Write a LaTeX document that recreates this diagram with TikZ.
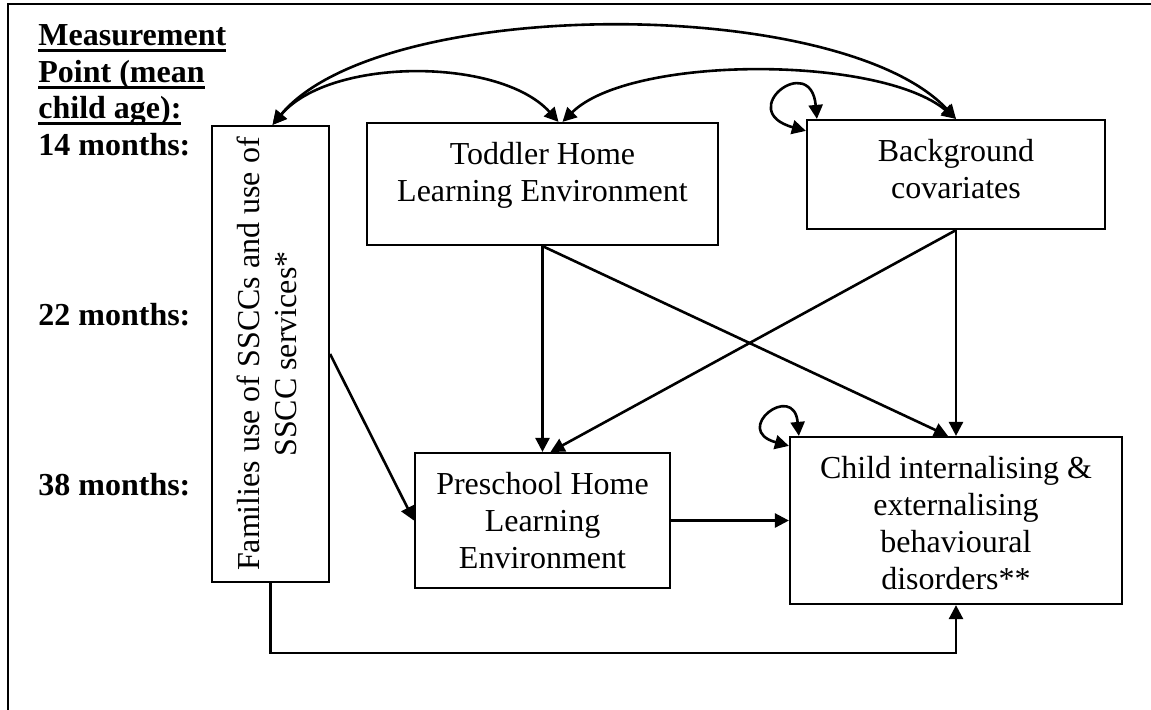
\documentclass[tikz,border=0pt]{standalone}
\usepackage{fontspec}
\setmainfont{Liberation Serif}
\usetikzlibrary{arrows.meta,positioning}
\newcommand{\ulabel}[1]{\setbox0\hbox{#1}\rlap{\rule[-3.4pt]{\wd0}{1.5pt}}\box0}

\begin{document}
\begin{tikzpicture}[
  x=0.5pt,y=-0.5pt,
  font=\fontsize{16}{18.5}\selectfont,
  varbox/.style={draw,line width=1.1pt,inner sep=0pt},
  boxtxt/.style={align=center,inner sep=0pt,anchor=north,yshift=-10pt},
  pointlbl/.style={font=\fontsize{16}{18.5}\selectfont\bfseries,anchor=base west,inner sep=0pt},
  link/.style={-{Triangle[length=7pt,width=7pt]},line width=1.3pt},
  covar/.style={{Triangle[length=7pt,width=7pt]}-{Triangle[length=7pt,width=7pt]},line width=1.3pt}
]
\useasboundingbox (0,0) rectangle (1151,709);
\draw[line width=1.2pt] (8,720) -- (8,4) -- (1160,4);

% measurement points
\node[pointlbl] (mp1) at (38,45) {\ulabel{Measurement}};
\node[pointlbl] (mp2) at (38,82) {\ulabel{Point (mean}};
\node[pointlbl] (mp3) at (38,118) {\ulabel{child age):}};
\node[pointlbl] (t14) at (38,155) {14 months:};
\node[pointlbl] (t22) at (38,325) {22 months:};
\node[pointlbl] (t38) at (38,495) {38 months:};

% variables
\node[varbox,minimum width=58.5pt,minimum height=228pt] (fam) at (270.5,354)
  {\rotatebox{90}{\begin{tabular}{@{}c@{}}Families use of SSCCs and use of\\SSCC services*\end{tabular}}};
\node[varbox,minimum width=175.5pt,minimum height=61pt] (tod) at (542.5,184) {};
\node[boxtxt] (todtxt) at (tod.north) {Toddler Home\\Learning Environment};
\node[varbox,minimum width=149pt,minimum height=54.5pt] (bg) at (956,174.5) {};
\node[boxtxt] (bgtxt) at (bg.north) {Background\\covariates};
\node[varbox,minimum width=127.5pt,minimum height=67.5pt] (pre) at (542.5,520.5) {};
\node[boxtxt] (pretxt) at (pre.north) {Preschool Home\\Learning\\Environment};
\node[varbox,minimum width=166pt,minimum height=83.5pt] (chi) at (956,520.5) {};
\node[boxtxt] (chitxt) at (chi.north) {Child internalising \&\\externalising\\behavioural\\disorders**};

% paths
\draw[link] (tod.south) -- (pre.north);
\draw[link] (tod.south) -- ([xshift=-4pt]chi.north);
\draw[link] (bg.south) -- ([xshift=4pt]pre.north);
\draw[link] (bg.south) -- (chi.north);
\draw[link] (fam.east) -- (pre.west);
\draw[link] (pre.east) -- (chi.west);
\draw[link] (fam.south) -- ++(0,70) -| (chi.south);

% covariances
\draw[covar] ([xshift=1pt]fam.north) .. controls (380,-5) and (840,-5) .. (bg.north);
\draw[covar] ([xshift=1pt]fam.north) .. controls (330,57) and (500,57) .. ([xshift=8pt]tod.north);
\draw[covar] (bg.north) .. controls (880,55) and (630,55) .. ([xshift=10pt]tod.north);
\draw[covar] ([xshift=5.5pt]bg.north west) .. controls +(-6,-68) and +(-72,-20) .. ([yshift=-6pt]bg.north west);
\draw[covar] ([xshift=5pt]chi.north west) .. controls +(-5,-55) and +(-58,-16) .. ([yshift=-5pt]chi.north west);
\end{tikzpicture}
\end{document}
